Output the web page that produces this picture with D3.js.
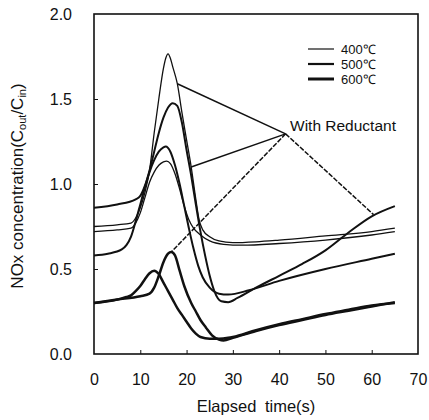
<!DOCTYPE html>
<html><head><meta charset="utf-8">
<script src="https://cdn.jsdelivr.net/npm/d3@7"></script>
<style>body{margin:0;background:#fff}svg{display:block}text{font-family:"Liberation Sans",Arial,sans-serif;fill:#111}</style>
</head><body><svg id="c" width="429" height="420"></svg>
<script>
// ---- data ----
const xTicks = [0,10,20,30,40,50,60,70];
const yTicks = [0.0,0.5,1.0,1.5,2.0];
const legendLabels = ["400\u2103","500\u2103","600\u2103"];
const s400R = [[0,0.75],[5,0.76],[8,0.77],[9,0.80],[10,0.86],[11,0.95],[12,1.08],[13,1.30],[14,1.50],[15,1.68],[15.5,1.74],[16,1.765],[16.5,1.74],[17,1.69],[18,1.59],[19,1.42],[20,1.26],[21,1.10],[22,0.91],[22.7,0.79],[23.5,0.73],[25,0.69],[27,0.665],[30,0.655],[35,0.66],[40,0.67],[50,0.695],[60,0.72],[65,0.74]];
const s400 = [[0,0.72],[5,0.73],[8,0.74],[9,0.77],[10,0.83],[11,0.92],[12,1.01],[13,1.07],[14,1.11],[15,1.13],[15.7,1.135],[16.5,1.12],[17.5,1.06],[18.5,0.97],[19.5,0.87],[20.5,0.79],[21.5,0.74],[23,0.70],[25,0.665],[28,0.645],[32,0.64],[40,0.65],[50,0.67],[60,0.70],[65,0.72]];
const s500R = [[0,0.86],[5,0.88],[9,0.91],[10,0.93],[11,0.99],[12,1.08],[13,1.19],[14,1.30],[15,1.39],[16,1.45],[17,1.475],[18,1.46],[19,1.36],[20,1.20],[21,1.05],[22,0.88],[23,0.72],[24,0.58],[25,0.46],[26,0.37],[27.5,0.31],[29,0.305],[31,0.33],[35,0.39],[40,0.46],[45,0.53],[50,0.61],[55,0.715],[60,0.81],[65,0.87]];
const s500 = [[0,0.58],[3,0.59],[6,0.615],[7,0.64],[8,0.69],[9,0.78],[10,0.88],[11,0.98],[12,1.07],[13,1.14],[14,1.19],[15,1.215],[15.5,1.22],[16.5,1.19],[17.5,1.11],[18.5,1.0],[19.5,0.87],[20.5,0.74],[21.5,0.62],[22.5,0.52],[23.5,0.45],[25,0.39],[27,0.355],[29,0.35],[33.5,0.375],[40,0.43],[50,0.50],[60,0.56],[65,0.59]];
const s600R = [[0,0.30],[5,0.32],[10,0.34],[12,0.355],[13,0.39],[14,0.46],[15,0.54],[16,0.59],[16.7,0.60],[17.5,0.58],[18.5,0.49],[19.5,0.40],[21,0.30],[22,0.25],[23,0.20],[24.2,0.155],[25.5,0.11],[27,0.085],[28,0.08],[30,0.095],[35,0.135],[40,0.17],[45,0.20],[50,0.23],[55,0.255],[60,0.28],[65,0.305]];
const s600 = [[0,0.30],[5,0.32],[7,0.335],[8,0.345],[9,0.37],[10,0.40],[11,0.44],[12,0.475],[13,0.49],[14,0.47],[15,0.42],[16,0.37],[17,0.32],[18,0.27],[19,0.23],[20,0.19],[21,0.15],[22,0.12],[23,0.10],[25,0.09],[27,0.09],[29,0.095],[30,0.10],[35,0.14],[40,0.175],[45,0.205],[50,0.235],[55,0.26],[60,0.285],[65,0.30]];
const pointerHub = [41.4,1.295];
const pointerTargets = [[18,1.59],[21,1.10],[16.7,0.60],[60.4,0.82]];

// ---- chart ----
const svg = d3.select("#c");
const x = d3.scaleLinear().domain([0,70]).range([94,418]);
const y = d3.scaleLinear().domain([0,2]).range([354,14]);

// frame
svg.append("rect").attr("x",x(0)).attr("y",y(2)).attr("width",x(70)-x(0)).attr("height",y(0)-y(2))
  .attr("fill","none").attr("stroke","#111").attr("stroke-width",1.6);

// axes with inward ticks
const gx = svg.append("g").attr("transform",`translate(0,${y(0)})`)
  .call(d3.axisBottom(x).tickValues(xTicks).tickSize(-4).tickPadding(20).tickFormat(d3.format("d")));
const gy = svg.append("g").attr("transform",`translate(${x(0)},0)`)
  .call(d3.axisLeft(y).tickValues(yTicks).tickSize(-4).tickPadding(22).tickFormat(d3.format(".1f")));
[gx,gy].forEach(g=>{
  g.select(".domain").remove();
  g.selectAll(".tick line").attr("stroke","#111").attr("stroke-width",1);
  g.selectAll(".tick text").attr("font-size",16).attr("font-family","Liberation Sans, Arial, sans-serif").attr("fill","#111");
});
gx.selectAll(".tick line").filter(d=>d===0||d===70).remove();
gy.selectAll(".tick line").filter(d=>d===0||d===2).remove();

// curves
const line = d3.line().x(d=>x(d[0])).y(d=>y(d[1])).curve(d3.curveMonotoneX);
const series = [
  {data:s400R,w:1.3},{data:s400,w:1.3},
  {data:s500R,w:2.0},{data:s500,w:2.0},
  {data:s600R,w:2.5},{data:s600,w:2.5}
];
svg.append("g").selectAll("path").data(series).join("path")
  .attr("d",d=>line(d.data)).attr("fill","none").attr("stroke","#111")
  .attr("stroke-width",d=>d.w).attr("stroke-linejoin","round");

// pointer lines
svg.append("g").selectAll("line").data(pointerTargets).join("line")
  .attr("x1",x(pointerHub[0])).attr("y1",y(pointerHub[1]))
  .attr("x2",d=>x(d[0])).attr("y2",d=>y(d[1]))
  .attr("stroke","#111").attr("stroke-width",1.5)
  .attr("stroke-dasharray",(d,i)=>i>=2?"5,1.5":null);

svg.append("text").attr("x",290).attr("y",131).attr("font-size",15.5).text("With Reductant");

// legend
const lw = [1.2,2.2,3];
const leg = svg.append("g");
legendLabels.forEach((t,i)=>{
  const yy = 49 + i*15;
  leg.append("line").attr("x1",308).attr("x2",334).attr("y1",yy).attr("y2",yy)
    .attr("stroke","#111").attr("stroke-width",lw[i]);
  leg.append("text").attr("x",341).attr("y",yy+5).attr("font-size",13).text(t);
});

// axis titles
svg.append("text").attr("x",256).attr("y",412).attr("text-anchor","middle")
  .attr("font-size",16.5).attr("word-spacing",4).text("Elapsed time(s)");
const yt = svg.append("text").attr("transform","translate(23,186) rotate(-90)")
  .attr("text-anchor","middle").attr("font-size",17);
yt.append("tspan").text("NOx concentration(C");
yt.append("tspan").attr("font-size",11).attr("dy",3).text("out");
yt.append("tspan").attr("dy",-3).text("/C");
yt.append("tspan").attr("font-size",11).attr("dy",3).text("in");
yt.append("tspan").attr("dy",-3).text(")");
</script></body></html>
